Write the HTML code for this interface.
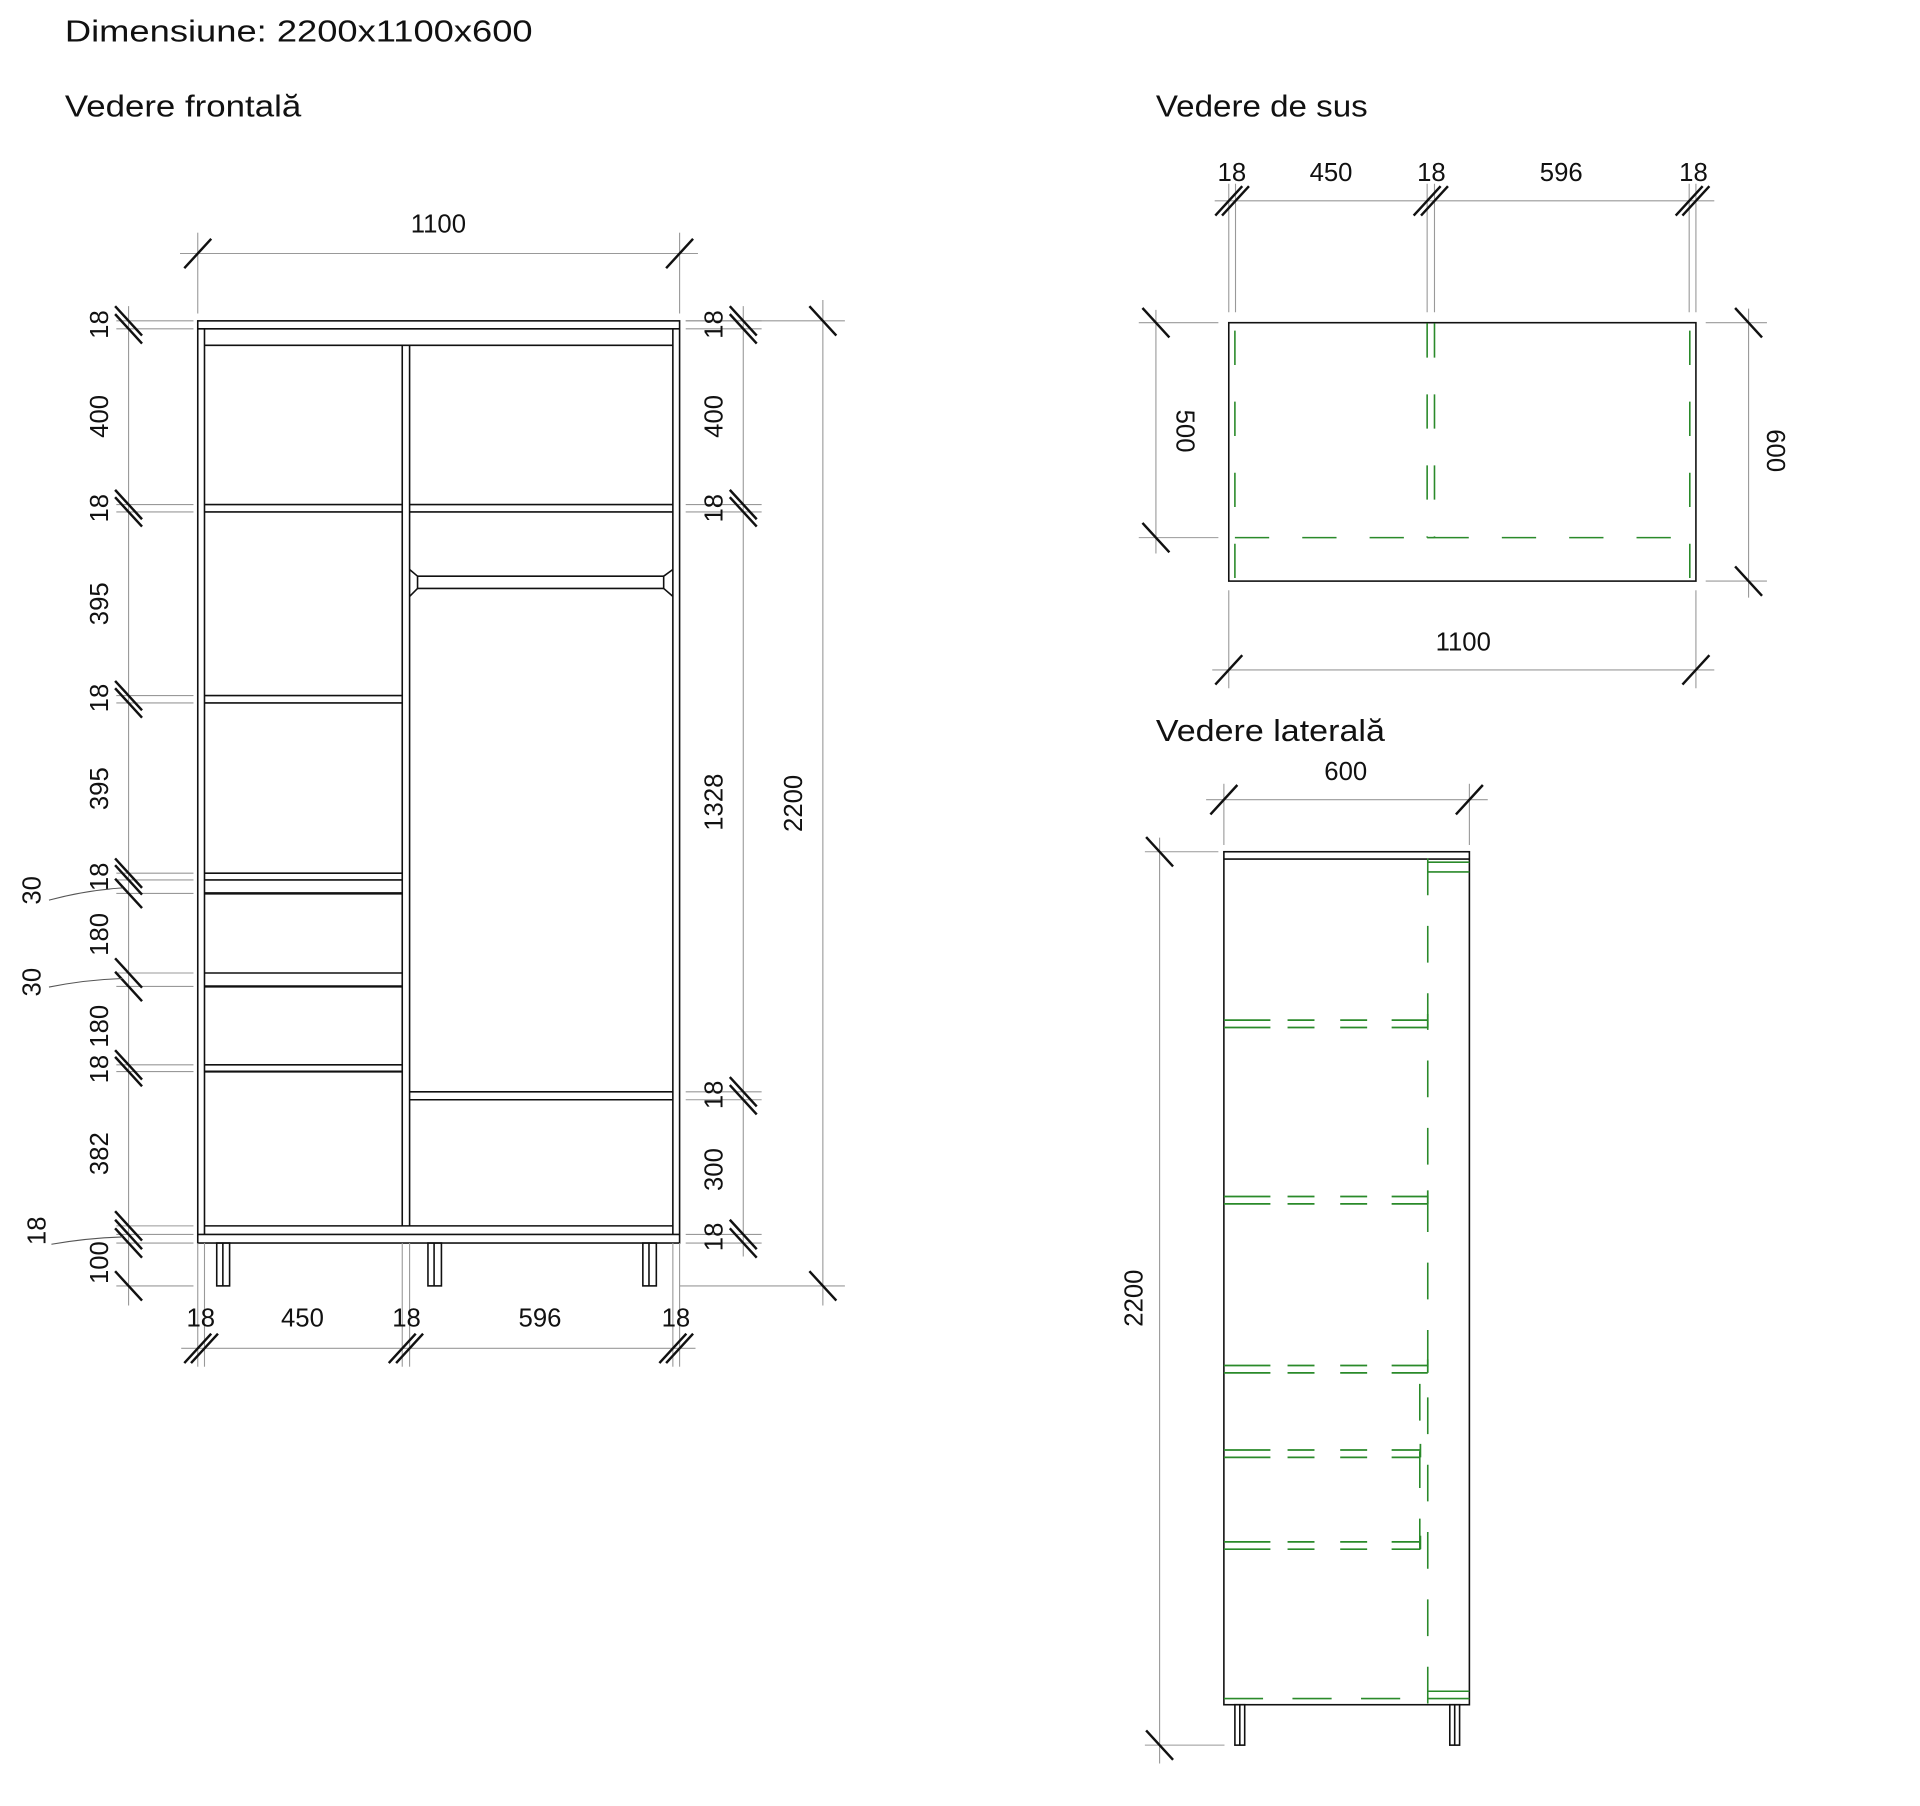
<!DOCTYPE html>
<html><head><meta charset="utf-8"><style>
html,body{margin:0;padding:0;background:#fff;width:1920px;height:1806px;overflow:hidden}
svg{display:block}
text{font-family:"Liberation Sans",sans-serif;fill:#111}
.t{font-size:21px}
.h{font-size:25px;font-family:"Liberation Sans Narrow","Liberation Sans",sans-serif}
</style></head><body>
<svg id="s" width="1920" height="1806" viewBox="0 0 1568 1474.7" preserveAspectRatio="none" xmlns="http://www.w3.org/2000/svg">
<g fill="none" stroke="#111" stroke-width="1.3">
<rect x="161.5" y="262" width="393.5" height="753"/>
<line x1="161.5" y1="268.5" x2="555" y2="268.5"/>
<line x1="167" y1="268.5" x2="167" y2="1008"/>
<line x1="549.5" y1="268.5" x2="549.5" y2="1008"/>
<line x1="167" y1="282" x2="549.5" y2="282"/>
<line x1="328.5" y1="282" x2="328.5" y2="1001"/>
<line x1="334.5" y1="282" x2="334.5" y2="1001"/>
<line x1="167" y1="1001" x2="549.5" y2="1001"/>
<line x1="161.5" y1="1008" x2="555" y2="1008"/>
<line x1="167" y1="412" x2="328.5" y2="412"/><line x1="167" y1="418" x2="328.5" y2="418"/>
<line x1="334.5" y1="412" x2="549.5" y2="412"/><line x1="334.5" y1="418" x2="549.5" y2="418"/>
<line x1="167" y1="568" x2="328.5" y2="568"/><line x1="167" y1="574" x2="328.5" y2="574"/>
<line x1="167" y1="713" x2="328.5" y2="713"/><line x1="167" y1="718.5" x2="328.5" y2="718.5"/>
<line x1="167" y1="729.5" x2="328.5" y2="729.5" stroke-width="2"/>
<line x1="167" y1="794.5" x2="328.5" y2="794.5"/><line x1="167" y1="805.5" x2="328.5" y2="805.5" stroke-width="2"/>
<line x1="167" y1="869.5" x2="328.5" y2="869.5"/><line x1="167" y1="875" x2="328.5" y2="875" stroke-width="1.8"/>
<line x1="334.5" y1="891.5" x2="549.5" y2="891.5"/><line x1="334.5" y1="898" x2="549.5" y2="898"/>
<line x1="341" y1="470.5" x2="542" y2="470.5"/><line x1="341" y1="480.5" x2="542" y2="480.5"/>
<path d="M334.5 465 L341 470.5 L341 480.5 L334.5 487 M549.5 465 L542 470.5 L542 480.5 L549.5 487"/>
<rect x="177" y="1015" width="10.5" height="35"/><line x1="182" y1="1015" x2="182" y2="1050"/>
<rect x="349.5" y="1015" width="11" height="35"/><line x1="354.5" y1="1015" x2="354.5" y2="1050"/>
<rect x="525" y="1015" width="11" height="35"/><line x1="530" y1="1015" x2="530" y2="1050"/>
<rect x="1003.5" y="263.5" width="381.5" height="211"/>
<rect x="999.5" y="695.5" width="200.5" height="696.5"/>
<line x1="999.5" y1="701.5" x2="1200" y2="701.5"/>
<rect x="1008.5" y="1392" width="8" height="33"/><line x1="1012.5" y1="1392" x2="1012.5" y2="1425"/>
<rect x="1184" y="1392" width="8" height="33"/><line x1="1188" y1="1392" x2="1188" y2="1425"/>
</g>
<g id="thin" fill="none" stroke="#999" stroke-width="0.9"></g>
<g id="ticks" fill="none" stroke="#111" stroke-width="2"></g>
<g fill="none" stroke="#2a8a2a" stroke-width="1.3">
<line x1="1008.5" y1="264" x2="1008.5" y2="474" stroke-dasharray="28 30" stroke-dashoffset="-6"/>
<line x1="1165.5" y1="264" x2="1165.5" y2="439" stroke-dasharray="28 30"/>
<line x1="1171.5" y1="264" x2="1171.5" y2="439" stroke-dasharray="28 30"/>
<line x1="1165.5" y1="439" x2="1171.5" y2="439"/>
<line x1="1380" y1="264" x2="1380" y2="474" stroke-dasharray="28 30" stroke-dashoffset="-6"/>
<line x1="1008.5" y1="439" x2="1165.5" y2="439" stroke-dasharray="28 27"/>
<line x1="1171.5" y1="439" x2="1380" y2="439" stroke-dasharray="28 27"/>
<line x1="1166" y1="701" x2="1166" y2="1392" stroke-dasharray="30 25"/>
<line x1="1166" y1="704" x2="1200" y2="704"/><line x1="1166" y1="712" x2="1200" y2="712"/>
<line x1="999.5" y1="1387" x2="1166" y2="1387" stroke-dasharray="32 24"/>
<line x1="1166" y1="1381" x2="1200" y2="1381"/><line x1="1166" y1="1387" x2="1200" y2="1387"/>
<line x1="1159.5" y1="1130" x2="1159.5" y2="1265" stroke-dasharray="30 25"/>
</g>
<g id="gdash" fill="none" stroke="#2a8a2a" stroke-width="1.4"></g>
<text class="h" x="53" y="34" textLength="382" lengthAdjust="spacingAndGlyphs">Dimensiune:   2200x1100x600</text>
<text class="h" x="53" y="95" textLength="193" lengthAdjust="spacingAndGlyphs">Vedere frontală</text>
<text class="h" x="944" y="95" textLength="173" lengthAdjust="spacingAndGlyphs">Vedere de sus</text>
<text class="h" x="944" y="605" textLength="187" lengthAdjust="spacingAndGlyphs">Vedere laterală</text>
<g class="t" text-anchor="middle">
<text x="358" y="190">1100</text>
<text x="164" y="1083">18</text><text x="247" y="1083">450</text><text x="332" y="1083">18</text><text x="441" y="1083">596</text><text x="552" y="1083">18</text>
<text x="1006" y="148">18</text><text x="1087" y="148">450</text><text x="1169" y="148">18</text><text x="1275" y="148">596</text><text x="1383" y="148">18</text>
<text x="1195" y="531">1100</text>
<text x="1099" y="637">600</text>
</g>
<g class="t" text-anchor="middle">
<text transform="translate(88,265) rotate(-90)">18</text>
<text transform="translate(88,340) rotate(-90)">400</text>
<text transform="translate(88,415) rotate(-90)">18</text>
<text transform="translate(88,493) rotate(-90)">395</text>
<text transform="translate(88,570) rotate(-90)">18</text>
<text transform="translate(88,644) rotate(-90)">395</text>
<text transform="translate(88,716) rotate(-90)">18</text>
<text transform="translate(88,763) rotate(-90)">180</text>
<text transform="translate(88,838) rotate(-90)">180</text>
<text transform="translate(88,873) rotate(-90)">18</text>
<text transform="translate(88,942) rotate(-90)">382</text>
<text transform="translate(88,1031) rotate(-90)">100</text>
<text transform="translate(33,727) rotate(-90)">30</text>
<text transform="translate(33,802) rotate(-90)">30</text>
<text transform="translate(37,1005) rotate(-90)">18</text>
<text transform="translate(590,265) rotate(-90)">18</text>
<text transform="translate(590,340) rotate(-90)">400</text>
<text transform="translate(590,415) rotate(-90)">18</text>
<text transform="translate(590,655) rotate(-90)">1328</text>
<text transform="translate(590,894) rotate(-90)">18</text>
<text transform="translate(590,955) rotate(-90)">300</text>
<text transform="translate(590,1010) rotate(-90)">18</text>
<text transform="translate(655,656) rotate(-90)">2200</text>
<text transform="translate(933,1060) rotate(-90)">2200</text>
<text transform="translate(961,352) rotate(90)">500</text>
<text transform="translate(1443,368) rotate(90)">600</text>
</g>
<g fill="none" stroke="#555" stroke-width="0.9">
<path d="M40 735 Q70 727 100 725"/><path d="M40 806 Q70 800 100 799"/><path d="M42 1016 Q70 1011 100 1010"/>
</g>
</svg>
<script>
var NS="http://www.w3.org/2000/svg";
function L(g,x1,y1,x2,y2,extra){var e=document.createElementNS(NS,"line");e.setAttribute("x1",x1);e.setAttribute("y1",y1);e.setAttribute("x2",x2);e.setAttribute("y2",y2);if(extra)for(var k in extra)e.setAttribute(k,extra[k]);document.getElementById(g).appendChild(e);}
function tv(x,y){L("ticks",x-11,y-12,x+11,y+12);}
function th(x,y){L("ticks",x-11,y+12,x+11,y-12);}
var lb=[262,268.5,412,418,568,574,713,718.5,729.5,794.5,805.5,869.5,875,1001,1008,1015];
L("thin",105,250,105,1066);
lb.forEach(function(y){L("thin",95,y,158,y);tv(105,y);});
L("thin",95,1050,158,1050);tv(105,1050);
var rb=[262,268.5,412,418,891.5,898,1008,1015];
L("thin",607,250,607,1026);
rb.forEach(function(y){L("thin",560,y,622,y);tv(607,y);});
L("thin",672,245,672,1066);L("thin",560,262,690,262);L("thin",555,1050,690,1050);tv(672,262);tv(672,1050);
L("thin",147,207,570,207);L("thin",161.5,190,161.5,256);L("thin",555,190,555,256);th(161.5,207);th(555,207);
L("thin",148,1101,568,1101);
[161.5,167,328.5,334.5,549.5,555].forEach(function(x){L("thin",x,1015,x,1116);th(x,1101);});
L("thin",992,164,1400,164);
[1003.5,1009,1165.5,1171.5,1379.5,1385].forEach(function(x){L("thin",x,150,x,255);th(x,164);});
L("thin",944,253,944,452);L("thin",930,263.5,995,263.5);L("thin",930,439,995,439);tv(944,263.5);tv(944,439);
L("thin",1428,252,1428,488);L("thin",1393,263.5,1443,263.5);L("thin",1393,474.5,1443,474.5);tv(1428,263.5);tv(1428,474.5);
L("thin",990,547,1400,547);L("thin",1003.5,482,1003.5,562);L("thin",1385,482,1385,562);th(1003.5,547);th(1385,547);
L("thin",985,653,1215,653);L("thin",999.5,640,999.5,690);L("thin",1200,640,1200,690);th(999.5,653);th(1200,653);
L("thin",947,684,947,1440);L("thin",935,695.5,995,695.5);L("thin",935,1425,1000,1425);tv(947,695.5);tv(947,1425);
[[833,1166],[977,1166],[1115,1166],[1184,1160],[1259,1160]].forEach(function(p){
 [p[0],p[0]+6].forEach(function(y){L("gdash",999.5,y,p[1],y,{"stroke-dasharray":"38 14 22 21 22 20 40 4"});});
 L("gdash",p[1],p[0]-5,p[1],p[0]+6);
});
</script>
</body></html>
